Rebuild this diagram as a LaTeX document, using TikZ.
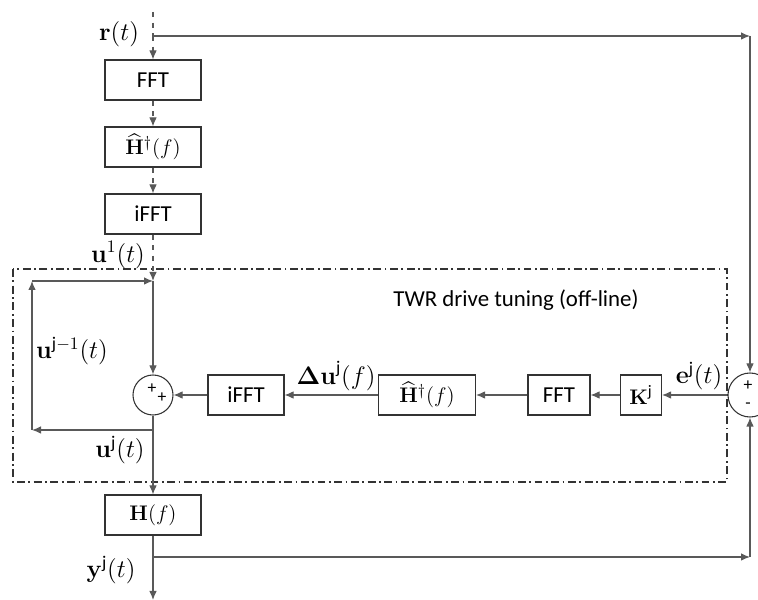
\documentclass[tikz,border=0pt]{standalone}
\usepackage{amsmath, amssymb}
\usepackage[no-math]{fontspec}
\setmainfont{Carlito}
\usetikzlibrary{arrows.meta}
\usetikzlibrary{positioning,calc}
\tikzset{
    block/.style={
        draw=black!80,
        rectangle,
        fill=white,
        line width=0.6pt,
        minimum height=0.8cm,
        inner sep=2pt
    },
    junction/.style={
        draw=black!80,
        circle,
        fill=white,
        line width=0.6pt,
        minimum size=0.8cm,
        inner sep=0pt
    },
    signal/.style={
        draw=black!65,
        line width=0.6pt,
        -{Latex[length=1.8mm, width=1.5mm]}
    },
    wire/.style={draw=black!65, line width=0.6pt},
    sgn/.style={font=\fontsize{10}{11}\selectfont, inner sep=0pt},
    lab/.style={font=\fontsize{14.5}{16}\selectfont, inner sep=1pt},
    every node/.style={font=\fontsize{13}{15}\selectfont}
}

\begin{document}
\begin{tikzpicture}[x=0.2mm, y=-0.2mm]
    \useasboundingbox (0,0) rectangle (758,600);
    \clip (0,0) rectangle (758,600);

    % Reference path through the inverse model
    \coordinate (top) at (153,12);
    \coordinate (rsplit) at (153,36);
    \node[block, minimum width=1.92cm] (fft1) at (153,80) {FFT};
    \node[block, minimum width=1.92cm] (hinv1) at (153,147) {$\widehat{\mathbf{H}}{}^{\dagger}(f)$};
    \node[block, minimum width=1.92cm] (ifft1) at (153,214) {iFFT};
    \coordinate (u1in) at (153,281);

    % Drive update loop
    \node[junction] (sum1) at (153,395) {};
    \coordinate (usplit) at (153,430);
    \coordinate (fbl) at (32,430);
    \coordinate (fbt) at (32,281);
    \node[block, minimum width=1.92cm] (plant) at (153,515) {$\mathbf{H}(f)$};
    \coordinate (ysplit) at (153,557);
    \coordinate (out) at (153,600);

    % Error correction row
    \node[block, minimum width=1.52cm] (ifft2) at (246,395) {iFFT};
    \node[block, minimum width=1.94cm] (hinv2) at (427,395) {$\widehat{\mathbf{H}}{}^{\dagger}(f)$};
    \node[block, minimum width=1.24cm] (fft2) at (559,395) {FFT};
    \node[block, minimum width=0.82cm] (gain) at (641,395) {$\mathbf{K}^{\text{j}}$};
    \node[junction, minimum size=0.88cm] (sum2) at (750,395) {};
    \coordinate (rcorner) at (750,36);
    \coordinate (ycorner) at (750,557);

    % Signs on the summing junctions
    \node[sgn] (s1a) at (152,389) {+};
    \node[sgn] (s1b) at (162,398) {+};
    \node[sgn] (s2a) at (748,386) {+};
    \node[sgn] (s2b) at (748,406) {-};

    % Off-line tuning frame
    \draw[black!80, line width=0.6pt, dash pattern=on 4.5pt off 2pt on 1pt off 2pt] (13,269) rectangle (727,482);
    \node (tuning) at (516,300) {TWR drive tuning (off-line)};

    % Signal labels
    \node[lab] (rlab) at (119,34) {$\mathbf{r}(t)$};
    \node[lab] (u1lab) at (118,255) {$\mathbf{u}^{1}(t)$};
    \node[lab] (uprev) at (72,351) {$\mathbf{u}^{\text{j}-1}(t)$};
    \node[lab] (ulab) at (120,450) {$\mathbf{u}^{\text{j}}(t)$};
    \node[lab] (ylab) at (111,570) {$\mathbf{y}^{\text{j}}(t)$};
    \node[lab] (dulab) at (336,376) {$\mathbf{\Delta u}^{\text{j}}(f)$};
    \node[lab] (elab) at (699,376) {$\mathbf{e}^{\text{j}}(t)$};

    % First pass (dashed)
    \draw[wire, dashed] (top) -- (rsplit);
    \draw[signal, dashed] (rsplit) -- (fft1);
    \draw[signal, dashed] (fft1) -- (hinv1);
    \draw[signal, dashed] (hinv1) -- (ifft1);
    \draw[signal, dashed] (ifft1) -- (u1in);

    % Forward path
    \draw[signal] (u1in) -- (sum1);
    \draw[wire] (sum1) -- (usplit);
    \draw[signal] (usplit) -- (plant);
    \draw[wire] (plant) -- (ysplit);
    \draw[signal] (ysplit) -- (out);

    % Previous drive fed back
    \draw[signal] (usplit) -- (fbl);
    \draw[signal] (fbl) -- (fbt);
    \draw[signal] (fbt) -- (u1in);

    % Reference and response to the error junction
    \draw[signal] (rsplit) -- (rcorner);
    \draw[signal] (rcorner) -- (sum2.north);
    \draw[signal] (ysplit) -- (ycorner);
    \draw[signal] (ycorner) -- (sum2.south);

    % Correction path
    \draw[signal] (sum2) -- (gain);
    \draw[signal] (gain) -- (fft2);
    \draw[signal] (fft2) -- (hinv2);
    \draw[signal] (hinv2) -- (ifft2);
    \draw[signal] (ifft2) -- (sum1);
\end{tikzpicture}
\end{document}
